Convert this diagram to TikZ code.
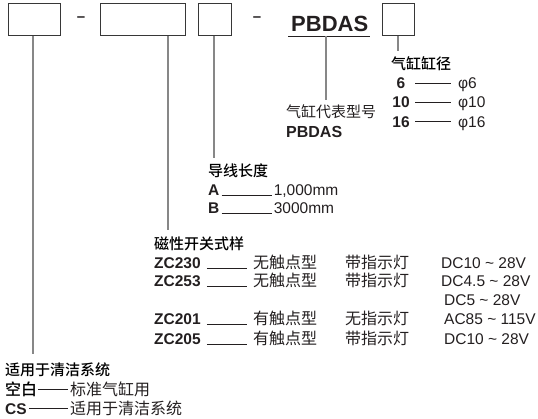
\documentclass[tikz,border=0pt]{standalone}
\usepackage{fontspec}
\setmainfont{Liberation Sans}
\newfontfamily\cjk{Noto Sans CJK SC}[BoldFont={Noto Sans CJK SC Medium}]
\usepackage{tikz}
\usetikzlibrary{positioning,calc}
\definecolor{inkcol} {RGB}{35,31,32}
\definecolor{boxcol} {RGB}{55,55,55}
\definecolor{conncol}{RGB}{135,135,135}

\begin{document}
\begin{tikzpicture}[
  x=1pt,y=-1pt,
  slot/.style={rectangle,draw=boxcol,line width=0.9pt,
               minimum height=32pt,inner sep=0pt,anchor=north west},
  lat/.style={inner sep=0pt,text=inkcol,font=\fontsize{15.5}{18}\selectfont},
  code/.style={inner sep=0pt,text=inkcol,font=\fontsize{15.5}{18}\selectfont\bfseries},
  zh/.style={inner sep=0pt,text=inkcol,font=\cjk\fontsize{16}{18}\selectfont},
  head/.style={inner sep=0pt,text=black,font=\cjk\bfseries\fontsize{15}{18}\selectfont},
  conn/.style={draw=conncol,line width=1.4pt},
  leader/.style={draw=inkcol,line width=0.7pt},
]
\useasboundingbox (0,0) rectangle (538,418);
% code slots
\node[slot,minimum width=52pt] (b1) at (8,3) {};
\node[slot,minimum width=85pt] (b2) at (100,3) {};
\node[slot,minimum width=33pt] (b3) at (198,3) {};
\node[slot,minimum width=32.5pt] (b4) at (381.5,3) {};
\node[lat,font=\fontsize{15}{18}\selectfont\bfseries] (d1) at (81,19.5) {–};
\node[lat,font=\fontsize{15}{18}\selectfont\bfseries] (d2) at (257,19.5) {–};
\node[code,font=\fontsize{22}{24}\selectfont\bfseries,anchor=base west] (pb) at (291,31) {PBDAS};
\draw[draw=inkcol,line width=0.9pt]
  ([xshift=-3pt,yshift=-5pt]pb.base west) -- ([xshift=2pt,yshift=-5pt]pb.base east);
% connector ends
\coordinate (e1) at (33,354);
\coordinate (e2) at (168,230);
\coordinate (e3) at (214,158);
\coordinate (e4) at (326,100);
\coordinate (e5) at (398,51);
\draw[conn] (e1 |- b1.south) -- (e1);
\draw[conn] (e2 |- b2.south) -- (e2);
\draw[conn] (e3 |- b3.south) -- (e3);
\draw[conn] ([yshift=-5pt]e4 |- pb.base) -- (e4);
\draw[conn] (e5 |- b4.south) -- (e5);
% bore
\node[head,anchor=base west] (hbore) at (391,69) {气缸缸径};
\node[code,anchor=base,minimum width=18pt] (k6)  at (401,88.5) {6};
\node[code,anchor=base,minimum width=18pt] (k10) at (401,107.5) {10};
\node[code,anchor=base,minimum width=18pt] (k16) at (401,127) {16};
\node[lat,anchor=base west] (p6)  at (458,88.5) {φ6};
\node[lat,anchor=base west] (p10) at (458,107.5) {φ10};
\node[lat,anchor=base west] (p16) at (458,127) {φ16};
\draw[leader,shorten <=5pt,shorten >=7pt] (k6.east) -- (k6.east -| p6.west);
\draw[leader,shorten <=5pt,shorten >=7pt] (k10.east) -- (k10.east -| p10.west);
\draw[leader,shorten <=5pt,shorten >=7pt] (k16.east) -- (k16.east -| p16.west);
% series
\node[zh,font=\cjk\fontsize{15}{18}\selectfont,anchor=base west] (hser) at (286,117) {气缸代表型号};
\node[code,font=\fontsize{16}{18}\selectfont\bfseries,anchor=base west] (ser) at (286,137.5) {PBDAS};
% lead length
\node[head,anchor=base west] (hlen) at (208,176) {导线长度};
\node[code,anchor=base west] (kA) at (208,195.5) {A};
\node[code,anchor=base west] (kB) at (208,213) {B};
\node[lat,base right=54pt of kA] (vA) {1,000mm};
\node[lat,base right=54pt of kB] (vB) {3000mm};
\draw[leader,shorten <=2pt,shorten >=2pt] (kA.base east) -- (vA.base west);
\draw[leader,shorten <=2pt,shorten >=2pt] (kB.base east) -- (vB.base west);
% switch
\node[head,anchor=base west] (hsw) at (154,249) {磁性开关式样};
\node[code,anchor=base west] (z1) at (154,268.5) {ZC230};
\node[code,anchor=base west] (z2) at (154,286.5) {ZC253};
\node[code,anchor=base west] (z4) at (154,324.5) {ZC201};
\node[code,anchor=base west] (z5) at (154,344.5) {ZC205};
\node[zh,anchor=base west] (t1) at (253,268.5) {无触点型};
\node[zh,anchor=base west] (t2) at (253,286.5) {无触点型};
\node[zh,anchor=base west] (t4) at (253,324.5) {有触点型};
\node[zh,anchor=base west] (t5) at (253,344.5) {有触点型};
\node[zh,anchor=base west] (l1) at (345,268.5) {带指示灯};
\node[zh,anchor=base west] (l2) at (345,286.5) {带指示灯};
\node[zh,anchor=base west] (l4) at (345,324.5) {无指示灯};
\node[zh,anchor=base west] (l5) at (345,344.5) {带指示灯};
\node[lat,anchor=base west] (v1) at (441,268.5) {DC10 \textasciitilde\ 28V};
\node[lat,anchor=base west] (v2) at (441,286.5) {DC4.5 \textasciitilde\ 28V};
\node[lat,anchor=base west] (v3) at (444,305.5) {DC5 \textasciitilde\ 28V};
\node[lat,anchor=base west] (v4) at (444,324.5) {AC85 \textasciitilde\ 115V};
\node[lat,anchor=base west] (v5) at (444,344.5) {DC10 \textasciitilde\ 28V};
\draw[leader,shorten <=6pt,shorten >=6pt] (z1.base east) -- (t1.base west);
\draw[leader,shorten <=6pt,shorten >=6pt] (z2.base east) -- (t2.base west);
\draw[leader,shorten <=6pt,shorten >=6pt] (z4.base east) -- (t4.base west);
\draw[leader,shorten <=6pt,shorten >=6pt] (z5.base east) -- (t5.base west);
% cleaning
\node[head,anchor=base west] (hcl) at (5,375.5) {适用于清洁系统};
\node[head,font=\cjk\bfseries\fontsize{16}{18}\selectfont,anchor=base west] (kn) at (5,395) {空白};
\node[code,anchor=base west] (kc) at (5,414) {CS};
\node[zh,anchor=base west] (tn) at (70,395) {标准气缸用};
\node[zh,anchor=base west] (tc) at (70,414) {适用于清洁系统};
\draw[leader,shorten <=1pt,shorten >=2pt] (kn.east) -- (kn.east -| tn.west);
\draw[leader,shorten <=2pt,shorten >=2pt] (kc.east) -- (kc.east -| tc.west);
\end{tikzpicture}
\end{document}
